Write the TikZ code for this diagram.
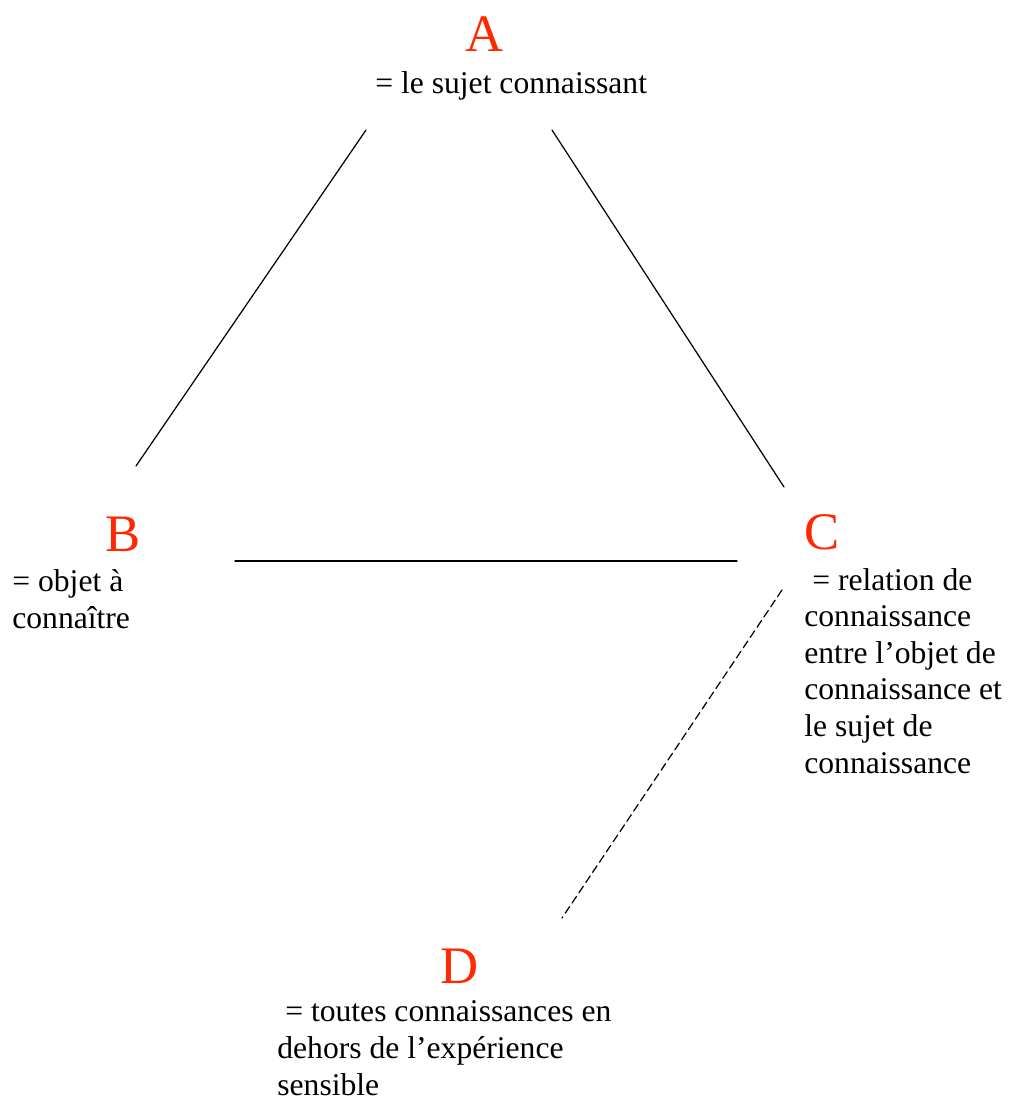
\documentclass[tikz,border=0pt]{standalone}
\usepackage{fontspec}
\setmainfont{Liberation Serif}
\usepackage{tkz-euclide}
\definecolor{lettred}{RGB}{255,40,0}
\tikzset{>=stealth,
  letter/.style={text=lettred, font=\fontsize{30}{36}\selectfont, inner sep=0pt, anchor=base},
  desc/.style={font=\fontsize{18}{20.8}\selectfont, align=left, inner sep=0pt, anchor=base west}}

\begin{document}
\begin{tikzpicture}[x=0.02cm, y=-0.02cm]
    \useasboundingbox (0,0) rectangle (1011,1099);
    \tkzDefPoints{366/130/Ab, 136/466/Ba, 552/130/Ac, 784/487/Ca,
      235/561/Bc, 737/561/Cb, 782/590/Cd, 562/918/Dc}
    % base of a multi-line text is its last line
    \node[letter] (A) at (485,51) {A};
    \node[desc] (Atxt) at (375,93) {= le sujet connaissant};
    \node[letter] (B) at (123,551) {B};
    \node[desc] (Btxt) at (12,628) {= objet à\\connaître};
    \node[letter] (C) at (822,549) {C};
    \node[desc] (Ctxt) at (804,773) {\ = relation de\\connaissance\\entre l’objet de\\connaissance et\\le sujet de\\connaissance};
    \node[letter] (D) at (460,983) {D};
    \node[desc] (Dtxt) at (277,1095) {\ = toutes connaissances en\\dehors de l’expérience\\sensible};
    \tkzDrawSegments[line width=0.7pt](Ab,Ba Ac,Ca Bc,Cb)
    \tkzDrawSegment[line width=0.7pt, dash pattern=on 4.5pt off 2.5pt](Cd,Dc)
\end{tikzpicture}
\end{document}
